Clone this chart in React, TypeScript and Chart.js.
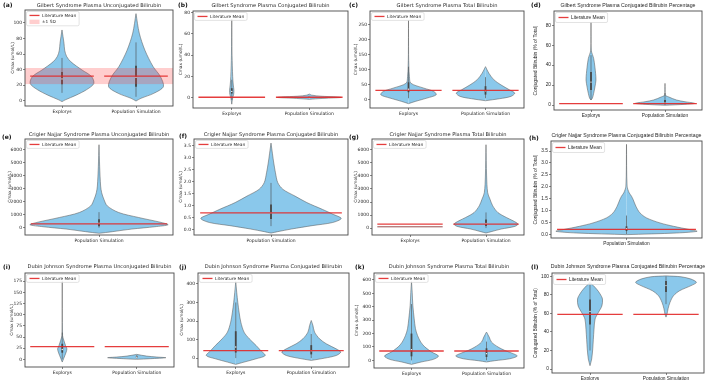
import React, { useEffect, useRef } from 'react';
import { Chart, registerables } from 'chart.js';

Chart.register(...registerables);

// ---------- categories ----------
const GROUPS_PAIR = ['Explorys', 'Population Simulation'];
const GROUPS_SIM = ['Population Simulation'];

// ---------- violin profiles: value levels (top to bottom) and half widths (category units) ----------
// box = [lower whisker, Q1, median, Q3, upper whisker]

// Gilbert – unconjugated
const gsUnconjExpLevels = [91, 74, 65, 57, 50, 39.5, 31, 22, 14, 7, 1, -1.3];
const gsUnconjExpHalf = [0, 0.027, 0.036, 0.062, 0.12, 0.27, 0.4, 0.43, 0.33, 0.19, 0.044, 0];
const gsUnconjExpBox = [10, 21, 28, 37, 55];
const gsUnconjSimLevels = [112, 87, 65, 44, 31, 18, 9.4, 3, -0.5];
const gsUnconjSimHalf = [0, 0.044, 0.12, 0.23, 0.33, 0.37, 0.24, 0.067, 0];
const gsUnconjSimBox = [5, 18, 30, 45, 75];
const gsUnconjMeans = [31.5, 31.5];
const gsUnconjSdBand = [21, 42];

// Gilbert – conjugated
const gsConjExpLevels = [74, 40, 20, 12, 7, 3, 0, -3, -6];
const gsConjExpHalf = [0, 0.004, 0.012, 0.02, 0.028, 0.024, 0.012, 0.005, 0];
const gsConjExpBox = [-2, 4, 6, 9, 17];
const gsConjSimLevels = [3.5, 2.5, 1.5, 0.8, 0.3, -0.3, -1, -1.5];
const gsConjSimHalf = [0, 0.03, 0.15, 0.36, 0.41, 0.25, 0.08, 0];
const gsConjSimBox = [0, 0.3, 0.6, 1.0, 2.0];
const gsConjMeans = [0.5, 0.5];

// Gilbert – total
const gsTotalExpLevels = [264, 150, 110, 77, 55, 38.5, 27.5, 16.5, 5.5, -5.5, -13];
const gsTotalExpHalf = [0, 0.0015, 0.005, 0.012, 0.03, 0.2, 0.33, 0.36, 0.24, 0.09, 0];
const gsTotalExpBox = [5, 25, 35, 58, 110];
const gsTotalSimLevels = [110, 88, 66, 49.5, 33, 22, 11, 3.3, -3.3];
const gsTotalSimHalf = [0, 0.044, 0.11, 0.2, 0.31, 0.38, 0.33, 0.18, 0];
const gsTotalSimBox = [5, 17, 30, 45, 75];
const gsTotalMeans = [31, 31];

// Gilbert – conjugated percentage
const gsPctExpLevels = [83, 55, 46.7, 38, 31.7, 25, 18, 11.7, 6.7, 5];
const gsPctExpHalf = [0, 0.004, 0.036, 0.053, 0.062, 0.067, 0.053, 0.036, 0.018, 0];
const gsPctExpBox = [5, 15, 23, 33, 50];
const gsPctSimLevels = [21.7, 10, 8.3, 5, 3.3, 1.7, 0.7, -0.3];
const gsPctSimHalf = [0, 0.004, 0.044, 0.156, 0.27, 0.4, 0.27, 0];
const gsPctSimBox = [0, 1, 2, 5, 12];
const gsPctMeans = [1.3, 1.3];

// Crigler-Najjar – unconjugated
const cnUnconjSimLevels = [6400, 4743, 3213, 2703, 2193, 1683, 1173, 790, 408, 230, 77, -102, -306, -433];
const cnUnconjSimHalf = [0, 0.0044, 0.011, 0.018, 0.033, 0.056, 0.133, 0.267, 0.42, 0.467, 0.378, 0.222, 0.089, 0];
const cnUnconjSimBox = [0, 120, 350, 650, 1200];
const cnUnconjMeans = [300];

// Crigler-Najjar – conjugated
const cnConjSimLevels = [3.61, 3.19, 2.78, 2.37, 1.96, 1.68, 1.4, 1.13, 0.85, 0.65, 0.47, 0.3, 0.17, 0.03, -0.08, -0.14];
const cnConjSimHalf = [0, 0.009, 0.018, 0.029, 0.044, 0.078, 0.156, 0.233, 0.333, 0.4, 0.456, 0.4, 0.267, 0.133, 0.044, 0];
const cnConjSimBox = [0.15, 0.45, 0.7, 1.05, 1.95];
const cnConjMeans = [0.7];

// Crigler-Najjar – total
const cnTotalExpSingle = 95;
const cnTotalSimLevels = [6400, 4000, 2718, 2210, 1702, 1194, 813, 559, 305, 127, -76, -280, -381];
const cnTotalSimHalf = [0, 0.008, 0.022, 0.053, 0.089, 0.156, 0.267, 0.356, 0.42, 0.38, 0.2, 0.067, 0];
const cnTotalSimBox = [0, 150, 350, 650, 1200];
const cnTotalMeans = [300, 300];

// Crigler-Najjar – conjugated percentage
const cnPctSimLevels = [3.78, 2.03, 1.75, 1.61, 1.47, 1.19, 0.91, 0.7, 0.49, 0.35, 0.21, 0.14, 0.07, 0];
const cnPctSimHalf = [0, 0.004, 0.018, 0.033, 0.044, 0.062, 0.089, 0.133, 0.222, 0.311, 0.42, 0.467, 0.333, 0];
const cnPctSimBox = [0.02, 0.15, 0.25, 0.35, 0.8];
const cnPctMeans = [0.22];

// Dubin-Johnson – unconjugated
const djUnconjExpLevels = [176, 53.6, 42.4, 31, 23.8, 16.4, 8.9, 1.5, -6];
const djUnconjExpHalf = [0, 0.004, 0.022, 0.044, 0.062, 0.053, 0.036, 0.018, 0];
const djUnconjExpBox = [0, 15, 22, 35, 60];
const djUnconjSimLevels = [11.2, 7.4, 5.2, 3.7, 1.5, 0];
const djUnconjSimHalf = [0, 0.13, 0.27, 0.39, 0.18, 0];
const djUnconjSimBox = [2, 4, 5, 7, 10];
const djUnconjMeans = [28.5, 28.5];

// Dubin-Johnson – conjugated
const djConjExpLevels = [413, 355, 301, 248, 194, 140, 104, 68, 41, 14, -3.6, -21.5, -34];
const djConjExpHalf = [0, 0.013, 0.027, 0.044, 0.067, 0.11, 0.18, 0.27, 0.33, 0.39, 0.27, 0.11, 0];
const djConjExpBox = [0, 30, 60, 145, 300];
const djConjSimLevels = [203, 176, 140, 104, 77, 50, 32, 14, 0, -12.6];
const djConjSimHalf = [0, 0.022, 0.044, 0.11, 0.2, 0.33, 0.39, 0.33, 0.18, 0];
const djConjSimBox = [0, 20, 40, 70, 130];
const djConjMeans = [40, 40];

// Dubin-Johnson – total
const djTotalExpLevels = [588, 508, 409, 310, 236, 186, 136, 99, 62, 32, 7.4, -12, -30];
const djTotalExpHalf = [0, 0.009, 0.018, 0.036, 0.053, 0.08, 0.124, 0.18, 0.27, 0.36, 0.29, 0.13, 0];
const djTotalExpBox = [0, 30, 80, 200, 420];
const djTotalSimLevels = [211, 174, 136, 99, 74, 50, 32, 12, -2.5, -12];
const djTotalSimHalf = [0, 0.036, 0.067, 0.156, 0.244, 0.356, 0.41, 0.31, 0.11, 0];
const djTotalSimBox = [0, 25, 50, 90, 140];
const djTotalMeans = [70, 70];

// Dubin-Johnson – conjugated percentage
const djPctExpLevels = [93.5, 90, 86, 81, 75.5, 68, 61, 54, 43, 32, 21.6, 10.8, 3.6];
const djPctExpHalf = [0, 0.044, 0.089, 0.133, 0.164, 0.156, 0.11, 0.067, 0.053, 0.044, 0.036, 0.022, 0];
const djPctExpBox = [20, 48, 62, 75, 92];
const djPctSimLevels = [100.5, 99.5, 97, 93.5, 90, 84.5, 79, 72, 65, 59, 56];
const djPctSimHalf = [0, 0.2, 0.33, 0.4, 0.33, 0.18, 0.098, 0.053, 0.027, 0.013, 0];
const djPctSimBox = [70, 83, 90, 95, 100];
const djPctMeans = [59, 59];

// ---------- y tick labels ----------
const ticks0to100 = [0, 20, 40, 60, 80, 100];
const ticks0to80 = [0, 20, 40, 60, 80];
const ticks0to250 = [0, 50, 100, 150, 200, 250];
const ticks0to6000 = [0, 1000, 2000, 3000, 4000, 5000, 6000];
const ticks0to3p5 = [0, 0.5, 1, 1.5, 2, 2.5, 3, 3.5];
const ticks0to175 = [0, 25, 50, 75, 100, 125, 150, 175];
const ticks0to400 = [0, 100, 200, 300, 400];
const ticks0to600 = [0, 100, 200, 300, 400, 500, 600];

// ---------- styling ----------
const RED = 'rgba(226, 40, 40, 0.9)';
const SD_FILL = 'rgba(255, 60, 60, 0.25)';
const VIOLIN_FILL = '#8ac8eb';
const VIOLIN_EDGE = '#5c5c5c';
const BOX_COLOR = '#474747';
const TEXT = '#262626';
const DEJAVU = '"DejaVu Sans", sans-serif';
const ARIAL = '"Liberation Sans", Arial, sans-serif';
const CMAX = 'Cmax (umol/L)';
const PCT = 'Conjugated Bilirubin (% of Total)';

type Violin = { pos: number; levels: number[]; half: number[]; box: number[] };
type Panel = {
  letter: string;
  title: string;
  yTitle: string;
  groups: string[];
  xMin: number;
  xMax: number;
  yMin: number;
  yMax: number;
  yTicks: number[];
  decimals: number;
  violins: Violin[];
  means: number[];
  meanHalf: number;
  sdBand?: number[];
  single?: { pos: number; value: number };
  font: string;
  cell: [number, number];
  box: [number, number, number, number];
  yTitleX: number;
  titleY: number;
  letterXY: [number, number];
};

const pair = { groups: GROUPS_PAIR, xMin: -0.5, xMax: 1.5, meanHalf: 0.43 };
const solo = { groups: GROUPS_SIM, xMin: -0.5, xMax: 0.5, meanHalf: 0.46 };

const PANELS: Panel[] = [
  {
    ...pair, letter: '(a)', title: 'Gilbert Syndrome Plasma Unconjugated Bilirubin', yTitle: CMAX,
    yMin: -6.9, yMax: 116.7, yTicks: ticks0to100, decimals: 0,
    violins: [
      { pos: 0, levels: gsUnconjExpLevels, half: gsUnconjExpHalf, box: gsUnconjExpBox },
      { pos: 1, levels: gsUnconjSimLevels, half: gsUnconjSimHalf, box: gsUnconjSimBox },
    ],
    means: gsUnconjMeans, sdBand: gsUnconjSdBand, font: DEJAVU,
    cell: [0, 0], box: [25, 10, 173, 106], yTitleX: 13, titleY: 6, letterXY: [3, 5],
  },
  {
    ...pair, letter: '(b)', title: 'Gilbert Syndrome Plasma Conjugated Bilirubin', yTitle: CMAX,
    yMin: -9.6, yMax: 81.6, yTicks: ticks0to80, decimals: 0,
    violins: [
      { pos: 0, levels: gsConjExpLevels, half: gsConjExpHalf, box: gsConjExpBox },
      { pos: 1, levels: gsConjSimLevels, half: gsConjSimHalf, box: gsConjSimBox },
    ],
    means: gsConjMeans, font: DEJAVU,
    cell: [176, 0], box: [193, 11, 348, 108], yTitleX: 181, titleY: 6, letterXY: [178, 5],
  },
  {
    ...pair, letter: '(c)', title: 'Gilbert Syndrome Plasma Total Bilirubin', yTitle: CMAX,
    yMin: -27.5, yMax: 295, yTicks: ticks0to250, decimals: 0,
    violins: [
      { pos: 0, levels: gsTotalExpLevels, half: gsTotalExpHalf, box: gsTotalExpBox },
      { pos: 1, levels: gsTotalSimLevels, half: gsTotalSimHalf, box: gsTotalSimBox },
    ],
    means: gsTotalMeans, font: DEJAVU,
    cell: [349, 0], box: [370, 11, 524, 108], yTitleX: 356, titleY: 6, letterXY: [349, 5],
  },
  {
    ...pair, letter: '(d)', title: 'Gilbert Syndrome Plasma Conjugated Bilirubin Percentage', yTitle: PCT,
    yMin: -5, yMax: 94.3, yTicks: ticks0to80, decimals: 0,
    violins: [
      { pos: 0, levels: gsPctExpLevels, half: gsPctExpHalf, box: gsPctExpBox },
      { pos: 1, levels: gsPctSimLevels, half: gsPctSimHalf, box: gsPctSimBox },
    ],
    means: gsPctMeans, font: ARIAL,
    cell: [527, 0], box: [554, 11, 702, 110], yTitleX: 536, titleY: 6, letterXY: [531, 5],
  },
  {
    ...solo, letter: '(e)', title: 'Crigler Najjar Syndrome Plasma Unconjugated Bilirubin', yTitle: CMAX,
    yMin: -561, yMax: 6842, yTicks: ticks0to6000, decimals: 0,
    violins: [{ pos: 0, levels: cnUnconjSimLevels, half: cnUnconjSimHalf, box: cnUnconjSimBox }],
    means: cnUnconjMeans, font: DEJAVU,
    cell: [0, 126], box: [25, 139, 173, 235], yTitleX: 10, titleY: 135, letterXY: [2, 137],
  },
  {
    ...solo, letter: '(f)', title: 'Crigler Najjar Syndrome Plasma Conjugated Bilirubin', yTitle: CMAX,
    yMin: -0.22, yMax: 3.78, yTicks: ticks0to3p5, decimals: 1,
    violins: [{ pos: 0, levels: cnConjSimLevels, half: cnConjSimHalf, box: cnConjSimBox }],
    means: cnConjMeans, font: DEJAVU,
    cell: [176, 126], box: [194, 139, 348, 235], yTitleX: 181, titleY: 135, letterXY: [179, 136],
  },
  {
    ...pair, letter: '(g)', title: 'Crigler Najjar Syndrome Plasma Total Bilirubin', yTitle: CMAX,
    yMin: -534, yMax: 6839, yTicks: ticks0to6000, decimals: 0,
    violins: [{ pos: 1, levels: cnTotalSimLevels, half: cnTotalSimHalf, box: cnTotalSimBox }],
    means: cnTotalMeans, single: { pos: 0, value: cnTotalExpSingle }, font: DEJAVU,
    cell: [349, 126], box: [372, 139, 524, 235], yTitleX: 356, titleY: 135, letterXY: [349, 137],
  },
  {
    ...solo, letter: '(h)', title: 'Crigler Najjar Syndrome Plasma Conjugated Bilirubin Percentage', yTitle: PCT,
    yMin: -0.14, yMax: 3.92, yTicks: ticks0to3p5, decimals: 1,
    violins: [{ pos: 0, levels: cnPctSimLevels, half: cnPctSimHalf, box: cnPctSimBox }],
    means: cnPctMeans, font: ARIAL,
    cell: [527, 126], box: [551, 141, 702, 238], yTitleX: 536, titleY: 136, letterXY: [529, 138],
  },
  {
    ...pair, letter: '(i)', title: 'Dubin Johnson Syndrome Plasma Unconjugated Bilirubin', yTitle: CMAX,
    yMin: -17.1, yMax: 193.6, yTicks: ticks0to175, decimals: 0,
    violins: [
      { pos: 0, levels: djUnconjExpLevels, half: djUnconjExpHalf, box: djUnconjExpBox },
      { pos: 1, levels: djUnconjSimLevels, half: djUnconjSimHalf, box: djUnconjSimBox },
    ],
    means: djUnconjMeans, font: DEJAVU,
    cell: [0, 252], box: [25, 273, 174, 367], yTitleX: 12, titleY: 267, letterXY: [3, 267],
  },
  {
    ...pair, letter: '(j)', title: 'Dubin Johnson Syndrome Plasma Conjugated Bilirubin', yTitle: CMAX,
    yMin: -48, yMax: 459, yTicks: ticks0to400, decimals: 0,
    violins: [
      { pos: 0, levels: djConjExpLevels, half: djConjExpHalf, box: djConjExpBox },
      { pos: 1, levels: djConjSimLevels, half: djConjSimHalf, box: djConjSimBox },
    ],
    means: djConjMeans, font: DEJAVU,
    cell: [176, 252], box: [198, 273, 349, 367], yTitleX: 182, titleY: 267, letterXY: [179, 267],
  },
  {
    ...pair, letter: '(k)', title: 'Dubin Johnson Syndrome Plasma Total Bilirubin', yTitle: CMAX,
    yMin: -57, yMax: 652, yTicks: ticks0to600, decimals: 0,
    violins: [
      { pos: 0, levels: djTotalExpLevels, half: djTotalExpHalf, box: djTotalExpBox },
      { pos: 1, levels: djTotalSimLevels, half: djTotalSimHalf, box: djTotalSimBox },
    ],
    means: djTotalMeans, font: DEJAVU,
    cell: [349, 252], box: [374, 273, 524, 368], yTitleX: 357, titleY: 267, letterXY: [355, 267],
  },
  {
    ...pair, letter: '(l)', title: 'Dubin Johnson Syndrome Plasma Conjugated Bilirubin Percentage', yTitle: PCT,
    yMin: -4.3, yMax: 103.6, yTicks: ticks0to100, decimals: 0,
    violins: [
      { pos: 0, levels: djPctExpLevels, half: djPctExpHalf, box: djPctExpBox },
      { pos: 1, levels: djPctSimLevels, half: djPctSimHalf, box: djPctSimBox },
    ],
    means: djPctMeans, font: ARIAL,
    cell: [527, 252], box: [552, 273, 704, 373], yTitleX: 536, titleY: 267, letterXY: [531, 267],
  },
];

const X_AXIS_H = 12;

function buildDatasets(p: Panel) {
  const ds: any[] = [];
  const base = { pointRadius: 0, pointHoverRadius: 0, fill: false, tension: 0 };

  // literature mean lines
  p.means.forEach((m, i) => {
    ds.push({
      ...base,
      data: [{ x: i - p.meanHalf, y: m }, { x: i + p.meanHalf, y: m }],
      borderColor: RED,
      borderWidth: 1.3,
      order: 0,
    });
  });

  // +/- 1 SD band spanning the whole category range
  if (p.sdBand) {
    ds.push({
      ...base,
      data: [{ x: p.xMax, y: p.sdBand[1] }, { x: p.xMax, y: p.sdBand[0] }],
      borderWidth: 0,
      backgroundColor: SD_FILL,
      fill: { value: p.xMin },
      order: 2,
    });
  }

  // single observation drawn as a flat line
  if (p.single) {
    ds.push({
      ...base,
      data: [
        { x: p.single.pos - p.meanHalf, y: p.single.value },
        { x: p.single.pos + p.meanHalf, y: p.single.value },
      ],
      borderColor: '#8a3a3a',
      borderWidth: 0.9,
      order: 5,
    });
  }

  p.violins.forEach((v) => {
    const [lo, q1, med, q3, hi] = v.box;
    ds.push({
      data: [{ x: v.pos, y: med }],
      showLine: false,
      pointRadius: 0.7,
      pointBorderWidth: 0,
      pointBackgroundColor: '#ffffff',
      order: 1,
    });
    ds.push({ ...base, data: [{ x: v.pos, y: q1 }, { x: v.pos, y: q3 }], borderColor: BOX_COLOR, borderWidth: 1.8, borderCapStyle: 'butt', order: 3 });
    ds.push({ ...base, data: [{ x: v.pos, y: lo }, { x: v.pos, y: hi }], borderColor: BOX_COLOR, borderWidth: 0.6, order: 4 });
    const right = v.levels.map((y, k) => ({ x: v.pos + v.half[k], y }));
    const left = v.levels.map((y, k) => ({ x: v.pos - v.half[k], y }));
    [right, left].forEach((data) =>
      ds.push({
        ...base,
        data,
        tension: 0.3,
        fill: { value: v.pos },
        backgroundColor: VIOLIN_FILL,
        borderColor: VIOLIN_EDGE,
        borderWidth: 0.55,
        borderJoinStyle: 'round',
        order: 6,
      })
    );
  });
  return ds;
}

function decorPlugin(p: Panel, originX: number, originY: number) {
  const isArial = p.font === ARIAL;
  return {
    id: 'panelDecor',
    afterDraw(chart: any) {
      const ctx = chart.ctx as CanvasRenderingContext2D;
      const a = chart.chartArea;
      ctx.save();

      // axes frame
      ctx.strokeStyle = '#4a4a4a';
      ctx.lineWidth = 0.9;
      ctx.strokeRect(a.left, a.top, a.right - a.left, a.bottom - a.top);

      // title
      ctx.fillStyle = TEXT;
      ctx.textBaseline = 'middle';
      ctx.textAlign = 'center';
      ctx.font = `${isArial ? 5.2 : 5.1}px ${p.font}`;
      ctx.fillText(p.title, (a.left + a.right) / 2, p.titleY - originY);

      // panel letter
      ctx.textAlign = 'left';
      ctx.font = `bold 6px ${DEJAVU}`;
      ctx.fillStyle = '#111';
      ctx.fillText(p.letter, p.letterXY[0] - originX, p.letterXY[1] - originY);

      // legend
      const fs = isArial ? 4.8 : 4.3;
      const rowH = isArial ? 8.5 : 6.4;
      const entries: { label: string; kind: 'line' | 'patch' }[] = [{ label: 'Literature Mean', kind: 'line' }];
      if (p.sdBand) entries.push({ label: '±1 SD', kind: 'patch' });
      ctx.font = `${fs}px ${p.font}`;
      const textW = Math.max(...entries.map((e) => ctx.measureText(e.label).width));
      const lx = a.left + 1.5;
      const ly = a.top + 1.5;
      const lw = 3 + 10 + 2.5 + textW + 3;
      const lh = entries.length * rowH + 1.5;
      ctx.fillStyle = 'rgba(255,255,255,0.85)';
      ctx.strokeStyle = '#d0d0d0';
      ctx.lineWidth = 0.6;
      ctx.beginPath();
      (ctx as any).roundRect(lx, ly, lw, lh, 1.5);
      ctx.fill();
      ctx.stroke();
      entries.forEach((e, i) => {
        const cy = ly + 0.75 + rowH * (i + 0.5);
        if (e.kind === 'line') {
          ctx.strokeStyle = RED;
          ctx.lineWidth = 1.3;
          ctx.beginPath();
          ctx.moveTo(lx + 3, cy);
          ctx.lineTo(lx + 13, cy);
          ctx.stroke();
        } else {
          ctx.fillStyle = SD_FILL;
          ctx.fillRect(lx + 3, cy - 2.2, 10, 4.4);
        }
        ctx.fillStyle = TEXT;
        ctx.textAlign = 'left';
        ctx.fillText(e.label, lx + 15.5, cy);
      });
      ctx.restore();
    },
  };
}

function PanelChart({ p }: { p: Panel }) {
  const ref = useRef<HTMLCanvasElement>(null);
  const [x0, y0] = p.cell;
  const [bl, bt, br, bb] = p.box;
  const width = br + 2 - x0;
  const xAxisH = Math.min(X_AXIS_H, 380 - bb);
  const height = bb + xAxisH - y0;
  const isArial = p.font === ARIAL;
  const tickSize = isArial ? 4.8 : 4.5;
  const yTitleSize = isArial ? 4.9 : 4.3;
  const yTitleLine = yTitleSize * 1.2;
  const padLeft = Math.max(0, p.yTitleX - yTitleLine / 2 - x0);
  const axisW = bl - x0 - padLeft;

  useEffect(() => {
    const canvas = ref.current;
    if (!canvas) return;
    const chart = new Chart(canvas, {
      type: 'line',
      data: { datasets: buildDatasets(p) },
      options: {
        animation: false,
        responsive: false,
        indexAxis: 'y',
        events: [],
        layout: {
          autoPadding: false,
          padding: { left: padLeft, top: bt - y0, right: 2, bottom: 0 },
        },
        plugins: {
          legend: { display: false },
          tooltip: { enabled: false },
          title: { display: false },
        },
        scales: {
          x: {
            type: 'linear',
            min: p.xMin,
            max: p.xMax,
            afterBuildTicks: (s: any) => {
              s.ticks = p.groups.map((_, i) => ({ value: i }));
            },
            afterFit: (s: any) => {
              s.height = xAxisH;
            },
            ticks: {
              callback: (v: any) => p.groups[Math.round(Number(v))] ?? '',
              font: { family: p.font, size: tickSize },
              color: TEXT,
              padding: 1,
              maxRotation: 0,
              autoSkip: false,
            },
            grid: { drawOnChartArea: false, tickLength: 2, color: '#555', lineWidth: 0.7 },
            border: { display: false },
          },
          y: {
            type: 'linear',
            min: p.yMin,
            max: p.yMax,
            afterBuildTicks: (s: any) => {
              s.ticks = p.yTicks.map((v) => ({ value: v }));
            },
            afterFit: (s: any) => {
              s.width = axisW;
            },
            ticks: {
              callback: (v: any) => Number(v).toFixed(p.decimals),
              font: { family: p.font, size: tickSize },
              color: TEXT,
              padding: 1,
              autoSkip: false,
            },
            title: {
              display: true,
              text: p.yTitle,
              font: { family: p.font, size: yTitleSize },
              color: TEXT,
              padding: 0,
            },
            grid: { drawOnChartArea: false, tickLength: 2, color: '#555', lineWidth: 0.7 },
            border: { display: false },
          },
        },
      },
      plugins: [decorPlugin(p, x0, y0)],
    } as any);
    return () => chart.destroy();
  }, []);

  return (
    <canvas
      ref={ref}
      width={width}
      height={height}
      style={{ position: 'absolute', left: x0, top: y0, width, height }}
    />
  );
}

export default function App() {
  return (
    <div style={{ position: 'absolute', left: 0, top: 0, width: 709, height: 380, background: '#ffffff', overflow: 'hidden' }}>
      {PANELS.map((p) => (
        <PanelChart key={p.letter} p={p} />
      ))}
    </div>
  );
}
